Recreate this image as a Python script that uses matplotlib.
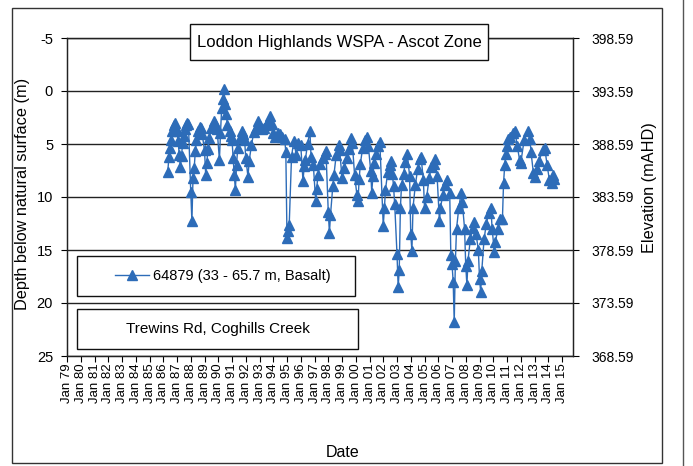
import pandas as pd
import matplotlib
matplotlib.use("Agg")
import matplotlib.pyplot as plt
import matplotlib.dates as mdates
from matplotlib.patches import Rectangle
from matplotlib.lines import Line2D

plt.rcParams['font.family'] = ['Liberation Sans', 'DejaVu Sans']
plt.rcParams['axes.unicode_minus'] = False

# bore 64879 water level readings (depth below natural surface, m)
dates = [
    "1986-05", "1986-06", "1986-07", "1986-08", "1986-09", "1986-10", "1986-11", "1986-12",
    "1987-01", "1987-02", "1987-03", "1987-04", "1987-05", "1987-06", "1987-07", "1987-08",
    "1987-09", "1987-10", "1987-11",
    "1988-01", "1988-02", "1988-03", "1988-04", "1988-05", "1988-06", "1988-07", "1988-09",
    "1988-10", "1988-11",
    "1989-01", "1989-02", "1989-03", "1989-04", "1989-05", "1989-07", "1989-09", "1989-10",
    "1989-12",
    "1990-02", "1990-03", "1990-04", "1990-05", "1990-06", "1990-07", "1990-08", "1990-09",
    "1990-11", "1990-12",
    "1991-01", "1991-02", "1991-03", "1991-04", "1991-05", "1991-06", "1991-08", "1991-10",
    "1991-11", "1991-12",
    "1992-01", "1992-03", "1992-04", "1992-06", "1992-08", "1992-10", "1992-12",
    "1993-01", "1993-03", "1993-05", "1993-07", "1993-09", "1993-10", "1993-12",
    "1994-01", "1994-03", "1994-05", "1994-07", "1994-09", "1994-11", "1994-12",
    "1995-01", "1995-02", "1995-03", "1995-05", "1995-07", "1995-09", "1995-11",
    "1996-01", "1996-03", "1996-04", "1996-05", "1996-07", "1996-09", "1996-10", "1996-12",
    "1997-02", "1997-03", "1997-04", "1997-06", "1997-08", "1997-10", "1997-11",
    "1998-01", "1998-02", "1998-03", "1998-05", "1998-06", "1998-08", "1998-10", "1998-11",
    "1999-01", "1999-03", "1999-05", "1999-07", "1999-09", "1999-10", "1999-12",
    "2000-02", "2000-03", "2000-04", "2000-05", "2000-07", "2000-09", "2000-11", "2000-12",
    "2001-02", "2001-03", "2001-04", "2001-05", "2001-07", "2001-08", "2001-10",
    "2002-01", "2002-02", "2002-03", "2002-05", "2002-07", "2002-08", "2002-09", "2002-10",
    "2002-11",
    "2003-01", "2003-02", "2003-03", "2003-04", "2003-05", "2003-07", "2003-08", "2003-10",
    "2003-12",
    "2004-01", "2004-02", "2004-03", "2004-05", "2004-07", "2004-09", "2004-10", "2004-12",
    "2005-01", "2005-03", "2005-05", "2005-07", "2005-09", "2005-10", "2005-12",
    "2006-02", "2006-03", "2006-05", "2006-07", "2006-09", "2006-11", "2006-12",
    "2007-01", "2007-02", "2007-03", "2007-04", "2007-05", "2007-07", "2007-09", "2007-10",
    "2007-12",
    "2008-01", "2008-02", "2008-03", "2008-05", "2008-07", "2008-08", "2008-10", "2008-12",
    "2009-01", "2009-02", "2009-03", "2009-05", "2009-07", "2009-09", "2009-11", "2009-12",
    "2010-02", "2010-03", "2010-05", "2010-07", "2010-09", "2010-10", "2010-11", "2010-12",
    "2011-01", "2011-02", "2011-04", "2011-06", "2011-08", "2011-10", "2011-12",
    "2012-01", "2012-04", "2012-07", "2012-09", "2012-10", "2012-12",
    "2013-01", "2013-03", "2013-05", "2013-08", "2013-10", "2013-12",
    "2014-02", "2014-04", "2014-05", "2014-06",
]
depth = [
    7.6, 6.2, 5.4, 4.6, 3.8, 3.2, 3.0, 3.5,
    3.8, 4.7, 6.0, 7.2, 6.1, 4.9, 4.2, 3.6,
    3.2, 3.0, 3.1,
    9.5, 12.3, 8.2, 7.3, 5.7, 4.6, 3.8, 3.4,
    3.5, 4.1,
    5.6, 7.9, 6.8, 5.5, 4.4, 3.5, 2.8, 3.1,
    3.6,
    6.5, 4.0, 1.6, 0.8, -0.2, 1.2, 2.2, 3.2,
    3.8, 4.2,
    4.6, 6.3, 7.9, 9.3, 7.0, 5.4, 4.4, 3.8,
    4.1, 4.6,
    6.3, 8.1, 6.6, 5.1, 3.9, 3.5, 2.8,
    3.3, 3.6, 3.5, 3.2, 2.7, 2.4, 3.1,
    4.0, 4.3, 4.0, 4.1, 4.3, 4.5, 5.8,
    13.9, 13.2, 12.6, 6.2, 4.7, 6.0, 4.9,
    5.1, 8.5, 7.1, 6.5, 5.0, 3.8, 6.2, 7.0,
    10.4, 9.2, 7.9, 6.9, 6.3, 5.9, 5.7,
    11.4, 13.4, 11.7, 9.0, 7.9, 6.0, 5.1, 5.6,
    8.2, 7.3, 6.3, 5.5, 4.4, 4.9, 7.9,
    9.8, 10.4, 8.3, 6.9, 5.4, 4.6, 4.3, 5.2,
    7.5, 9.6, 8.0, 6.8, 5.9, 5.2, 4.8,
    12.7, 11.0, 9.3, 7.6, 7.0, 6.6, 7.8, 9.0,
    10.7,
    15.4, 18.5, 16.9, 11.0, 8.9, 7.8, 6.7, 5.9,
    8.0,
    13.5, 15.1, 11.0, 8.9, 7.4, 6.4, 6.2, 8.4,
    11.0, 10.0, 8.2, 7.2, 6.9, 6.4, 8.0,
    12.3, 11.0, 9.8, 8.9, 8.4, 9.6, 15.5,
    16.3, 18.0, 21.8, 16.0, 13.0, 11.0, 9.6, 10.5,
    13.0,
    16.5, 18.3, 16.0, 14.0, 12.9, 12.4, 13.5, 15.0,
    17.7, 19.0, 17.0, 14.0, 12.5, 11.5, 11.0, 13.0,
    15.2, 14.2, 13.0, 12.1, 12.1, 8.7, 7.0, 5.9,
    5.2, 4.5, 4.3, 4.0, 3.8, 5.2, 6.5,
    6.8, 4.6, 3.8, 4.5, 5.8, 7.7,
    8.1, 7.4, 6.6, 5.6, 5.4, 7.0,
    8.4, 8.7, 7.9, 8.3,
]

depth_ticks = [-5, 0, 5, 10, 15, 20, 25]
elev_ticks = [398.59, 393.59, 388.59, 383.59, 378.59, 373.59, 368.59]
tick_years = list(range(1979, 2016))

series_label = "64879 (33 - 65.7 m, Basalt)"
title_text = "Loddon Highlands WSPA - Ascot Zone"
site_text = "Trewins Rd, Coghills Creek"

blue = "#2d6cb8"
x = pd.to_datetime(dates, format="%Y-%m")

fig = plt.figure(figsize=(6.93, 4.66), dpi=100)
ax = fig.add_axes([67 / 693, 1 - 356 / 466, 506 / 693, 318 / 466])

ax.plot(x, depth, color=blue, lw=1.0, marker="^", ms=7, mec=blue, mfc=blue, zorder=3)

ax.set_ylim(25, -5)
ax.set_yticks(depth_ticks)
ax.yaxis.grid(True, color="#222222", lw=1.0)
ax.set_axisbelow(True)

ax.set_xlim(pd.Timestamp("1979-01-01"), pd.Timestamp("1979-01-01") + pd.Timedelta(days=int(36.8 * 365.25)))
ax.set_xticks([pd.Timestamp(f"{yr}-01-01") for yr in tick_years])
ax.xaxis.set_major_formatter(mdates.DateFormatter("%b %y"))
ax.tick_params(axis="x", rotation=90, labelsize=9.5, length=4, pad=1.5, width=0.8)
ax.tick_params(axis="y", labelsize=10.5, length=4, pad=6, width=0.8)

for s in ax.spines.values():
    s.set_color("#222222")
    s.set_linewidth(0.9)

ax2 = ax.twinx()
ax2.set_ylim(368.59, 398.59)
ax2.set_yticks(elev_ticks)
ax2.set_yticklabels([f"{v:.2f}" for v in elev_ticks])
ax2.tick_params(axis="y", labelsize=10, length=4, pad=9, width=0.8)
for s in ax2.spines.values():
    s.set_color("#222222")
    s.set_linewidth(0.9)

ax.set_ylabel("Depth below natural surface (m)", fontsize=11.7)
ax.yaxis.set_label_coords(-0.073, 0.51)
ax2.set_ylabel("Elevation (mAHD)", fontsize=11.7)
ax2.yaxis.set_label_coords(1.136, 0.53)
ax.set_xlabel("Date", fontsize=11.5)
ax.xaxis.set_label_coords(0.545, -0.28)


def fig_box(x0, y0, x1, y1, text=None, size=11):
    # box given in pixel coordinates from the top-left corner
    rect = Rectangle((x0 / 693, 1 - y1 / 466), (x1 - x0) / 693, (y1 - y0) / 466,
                     transform=fig.transFigure, facecolor="white", edgecolor="#111111",
                     lw=1.0, zorder=5)
    fig.add_artist(rect)
    if text:
        fig.text((x0 + x1) / 2 / 693, 1 - (y0 + y1) / 2 / 466, text, ha="center",
                 va="center", fontsize=size, zorder=6)


fig_box(190, 24, 488, 60, title_text, size=12)
fig_box(77, 256, 355, 296)
fig_box(77, 309, 358, 349, site_text, size=11)

handle = Line2D([], [], color=blue, lw=1.0, marker="^", ms=7, mec=blue, mfc=blue)
leg = fig.legend([handle], [series_label], loc="center left",
                 bbox_to_anchor=(108 / 693, 1 - 276 / 466), frameon=False,
                 fontsize=10.5, handlelength=2.3, handletextpad=0.3, borderpad=0)
leg.set_zorder(7)

# chart area border
fig.add_artist(Rectangle((12 / 693, 1 - 463 / 466), 650 / 693, 455 / 466,
                         transform=fig.transFigure, fill=False, edgecolor="#333333", lw=1.0))
fig.add_artist(Line2D([683 / 693, 683 / 693], [0, 1], transform=fig.transFigure,
                      color="#555555", lw=1.0))

fig.savefig("out.png", dpi=100)
